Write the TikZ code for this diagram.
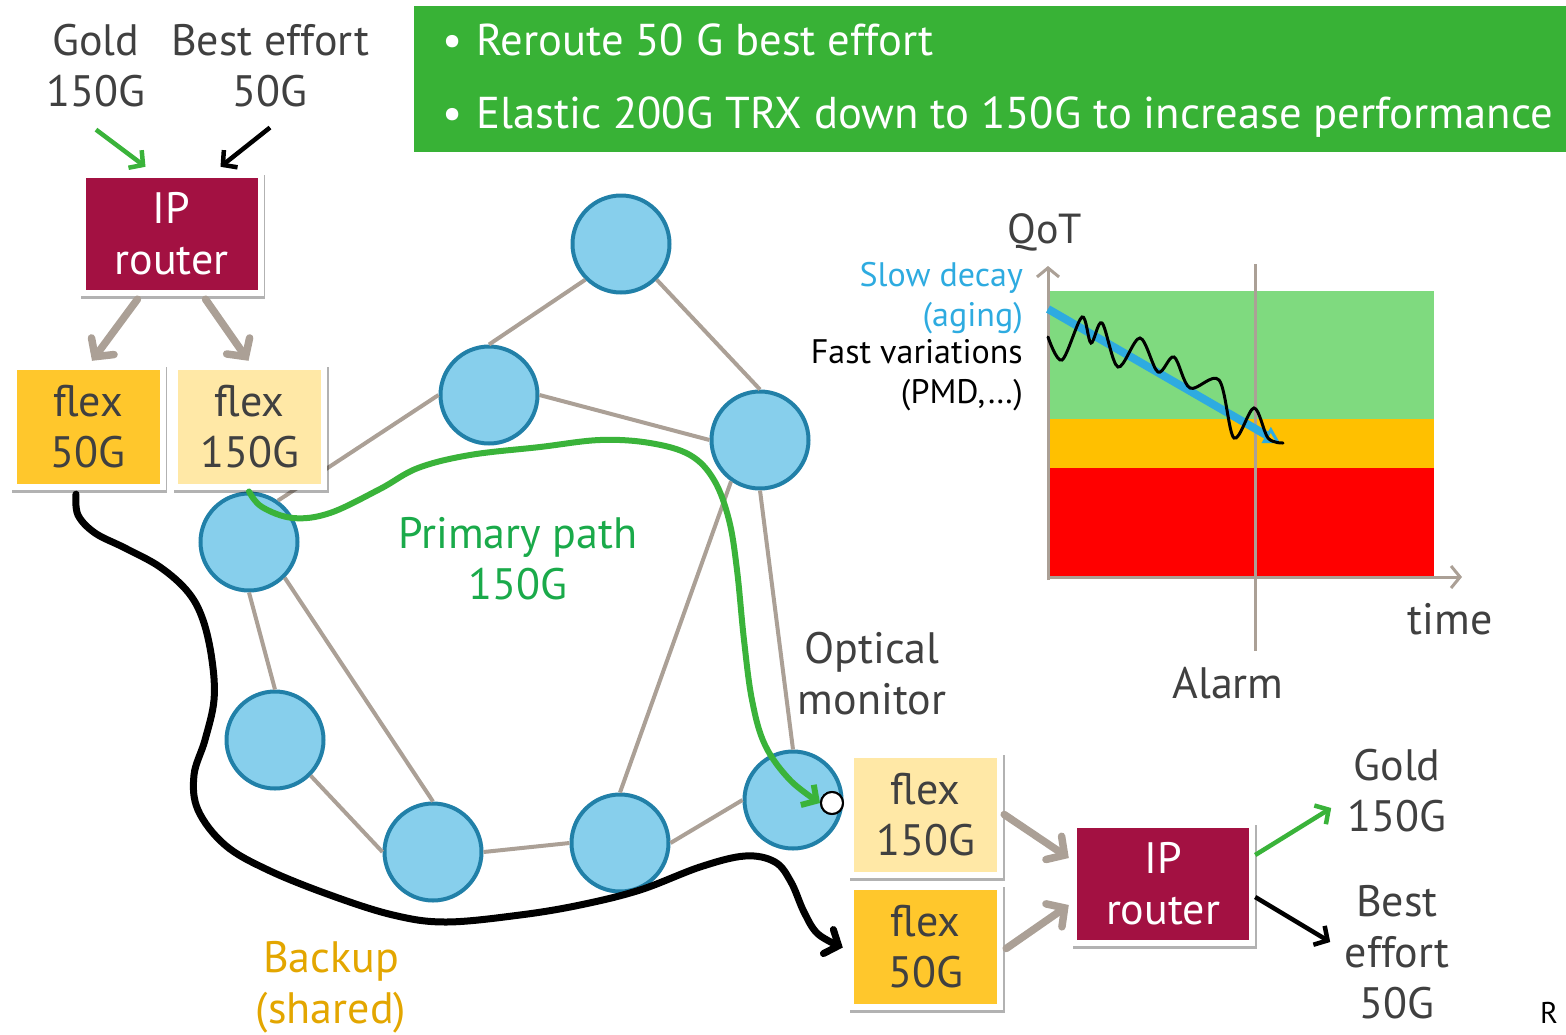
\documentclass[tikz,border=0pt]{standalone}
\usepackage{fontspec}
\setmainfont{PT Sans}
\usetikzlibrary{arrows.meta,shadows}

\definecolor{inkgrey}{HTML}{404040}
\definecolor{routerred}{HTML}{A31142}
\definecolor{flexgold}{HTML}{FFC72C}
\definecolor{flexpale}{HTML}{FFE8A6}
\definecolor{nodeblue}{HTML}{87CFEC}
\definecolor{nodeedge}{HTML}{2180A8}
\definecolor{linkgrey}{HTML}{ABA096}
\definecolor{bannergreen}{HTML}{38B236}
\definecolor{pathgreen}{HTML}{3AB33A}
\definecolor{labelgreen}{HTML}{1AAA4A}
\definecolor{backupgold}{HTML}{E3A600}
\definecolor{decayblue}{HTML}{2EABE0}
\definecolor{qotgreen}{HTML}{7FDA7F}
\definecolor{qotorange}{HTML}{FFC000}
\definecolor{qotred}{HTML}{FF0000}

\newcommand\fsz[2]{\fontsize{#1}{#2}\selectfont}

\tikzset{
  every node/.style={inner sep=0pt, text=inkgrey, font=\fsz{44}{51}},
  lbl/.style={align=center},
  frame/.style={rectangle, fill=white, align=center,
    drop shadow={shadow xshift=1.5pt, shadow yshift=-3pt, opacity=0.3, fill=black}},
  inset/.style={path picture={\fill[#1]
      ([shift={(6pt,6pt)}]path picture bounding box.south west) rectangle
      ([shift={(-6pt,-6pt)}]path picture bounding box.north east);}},
  router/.style={frame, inset=routerred, text=white, minimum width=184pt, minimum height=124pt},
  flexbox/.style={frame, inset=#1, minimum width=155pt, minimum height=126pt},
  netnode/.style={circle, fill=nodeblue, draw=nodeedge, line width=4pt, minimum size=97pt},
  link/.style={draw=linkgrey, line width=4pt},
  feed/.style={draw=linkgrey, line width=7.5pt, line cap=round,
    -{Straight Barb[length=13pt, width=28pt, line cap=round]}},
  thin arrow/.style={line width=4.5pt, -{Straight Barb[length=10pt, width=22pt]}},
  axis/.style={draw=linkgrey, line width=3pt, -{Straight Barb[length=9pt, width=22pt]}},
}

\begin{document}
\begin{tikzpicture}[x=1pt, y=-1pt]
\useasboundingbox (0,0) rectangle (1566,1034);

% ---- banner with the two actions
\node[fill=bannergreen, minimum width=1152pt, minimum height=146pt, anchor=north west] (banner) at (414,6) {};
\node[anchor=west, text=white, font=\fsz{44.6}{52}] (act1) at (442,40) {•\hspace{14pt}Reroute 50 G best effort};
\node[anchor=west, text=white, font=\fsz{44.6}{52}] (act2) at (442,117) {•\hspace{14pt}Elastic 200G TRX down to 150G to increase performance};

% ---- ingress side
\node[lbl] (goldIn) at (96,66) {Gold\\150G};
\node[lbl] (beIn) at (270,66) {Best effort\\50G};
\node[router] (routerA) at (171.5,234) {IP\\router};

% ---- optical network
\node[netnode] (n1) at (621,244) {};
\node[netnode] (n2) at (489,395) {};
\node[netnode] (n3) at (760,440) {};
\node[netnode] (n4) at (249,542) {};
\node[netnode] (n5) at (275,740) {};
\node[netnode] (n6) at (433,852) {};
\node[netnode] (n7) at (620,843) {};
\node[netnode] (n8) at (793,800) {};

\draw[link] (n1.225) -- (n2.north);
\draw[link] (n1.-45) -- (n3.north);
\draw[link] (n2.east) -- (n3.west);
\draw[link] (n4.55) -- (n2.west);
\draw[link] (n4.south) -- (n5.north);
\draw[link] (n4.-45) -- (n6.north);
\draw[link] (n5.-45) -- (n6.west);
\draw[link] (n6.east) -- (n7.west);
\draw[link] (n3.-125) -- (n7.north);
\draw[link] (n3.south) -- (n8.north);
\draw[link] (n7.east) -- (n8.west);

% ---- transponders
\node[flexbox=flexgold] (flex50A) at (88,427) {flex\\50G};
\node[flexbox=flexpale] (flex150A) at (249.5,427) {flex\\150G};
\node[flexbox=flexpale] (flex150B) at (925.5,814.5) {flex\\150G};
\node[flexbox=flexgold] (flex50B) at (925.5,946.5) {flex\\50G};
\node[router] (routerB) at (1163,884) {IP\\router};

\node[circle, fill=white, draw=black, line width=2pt, minimum size=22pt] (mon) at (832,803) {};

% ---- ingress arrows
\draw[thin arrow, pathgreen] ([yshift=-22pt]goldIn.south) -- ([xshift=-26pt,yshift=5pt]routerA.north);
\draw[thin arrow, black] ([yshift=-20pt]beIn.south) -- ([xshift=49pt,yshift=5pt]routerA.north);
\draw[feed] ([xshift=-34pt,yshift=-3pt]routerA.south) -- ([xshift=4pt,yshift=3pt]flex50A.north);
\draw[feed] ([xshift=34pt,yshift=-3pt]routerA.south) -- ([xshift=-1pt,yshift=3pt]flex150A.north);

% ---- egress arrows
\draw[feed] ([xshift=1pt]flex150B.east) -- ([xshift=-2pt,yshift=26pt]routerB.west);
\draw[feed] ([xshift=3pt,yshift=-2pt]flex50B.east) -- ([xshift=-2pt,yshift=-21pt]routerB.west);
\draw[thin arrow, pathgreen] ([yshift=29pt]routerB.east) -- ++(76,-47) coordinate (goldOutTip);
\draw[thin arrow, black] ([yshift=-13pt]routerB.east) -- ++(75,45) coordinate (beOutTip);
\node[lbl] (goldOut) at (1397,791) {Gold\\150G};
\node[lbl] (beOut) at (1397,952) {Best\\effort\\50G};

% ---- primary path
\draw[pathgreen, line width=6pt, line cap=round, -{Straight Barb[length=11pt, width=24pt]}]
  plot[smooth, tension=0.6] coordinates {(n4.north) (262,507) (293,518) (330,513) (380,489) (418,468)
    (470,455) (540,447) (600,440) (650,443) (690,455) (714,480) (729,520) (737,570) (744,640)
    (752,700) (765,745) (790,780) (mon.west)};
\node[circle, fill=white, draw=black, line width=2pt, minimum size=22pt] at (mon) {};

% ---- backup path
\draw[black, line width=7pt, line cap=round, -{Straight Barb[length=11pt, width=26pt, line cap=round]}]
  plot[smooth, tension=0.6] coordinates {([xshift=-12pt,yshift=-4pt]flex50A.south) (78,515) (95,533) (125,548)
    (160,567) (188,592) (203,620) (212,660) (214,700) (205,740) (194,775) (198,810) (225,845)
    (268,870) (330,895) (393,915) (446,922) (520,915) (580,905) (640,890) (700,867) (745,856)
    (775,862) (791,882) (804,912) (818,934) ([xshift=-5pt,yshift=-1pt]flex50B.west)};

% ---- path labels
\node[lbl, text=labelgreen] (primLbl) at (518,559) {Primary path\\150G};
\node[lbl, text=backupgold] (backLbl) at (331,987) {Backup\\(shared)};
\node[lbl] (monLbl) at (872,674) {Optical\\monitor};

% ---- QoT chart
\fill[qotgreen] (1048,291) rectangle (1434,419);
\fill[qotorange] (1048,419) rectangle (1434,468);
\fill[qotred] (1048,468) rectangle (1434,576);
\coordinate (origin) at (1048,577);
\draw[axis] ([yshift=-3pt]origin) -- (1048,266) coordinate (yTip);
\draw[axis] (origin) -- (1462,577) coordinate (xTip);
\draw[draw=linkgrey, line width=3pt] (1255,264) coordinate (alarmTop) -- (1255,651) coordinate (alarmBot);
\draw[decayblue, line width=8pt, -{Triangle[open, length=16pt, width=18pt, line width=3pt]}]
  (1048,309) -- (1280,443);
\draw[black, line width=3pt, line cap=round]
  plot[smooth, tension=0.55] coordinates {(1048,337) (1062,360) (1082,317) (1091,343) (1102,323)
    (1118,367) (1140,338) (1158,372) (1174,357) (1190,388) (1219,380) (1234,438) (1254,408)
    (1268,438) (1283,443)};

\node[font=\fsz{42}{50}] (qotLbl) at (1045,232) {QoT};
\node (timeLbl) at (1450,619) {time};
\node (alarmLbl) at (1228,683) {Alarm};
\node[anchor=east, align=right, text=decayblue, font=\fsz{34}{40}] (decayLbl) at (1023,298) {Slow decay\\(aging)};
\node[anchor=east, align=right, text=black, font=\fsz{34}{40}] (fastLbl) at (1023,375) {Fast variations\\(PMD,…)};

\node[anchor=south west, text=black, font=\fsz{30}{36}] (tailR) at (1540,1024) {R};
\end{tikzpicture}
\end{document}
